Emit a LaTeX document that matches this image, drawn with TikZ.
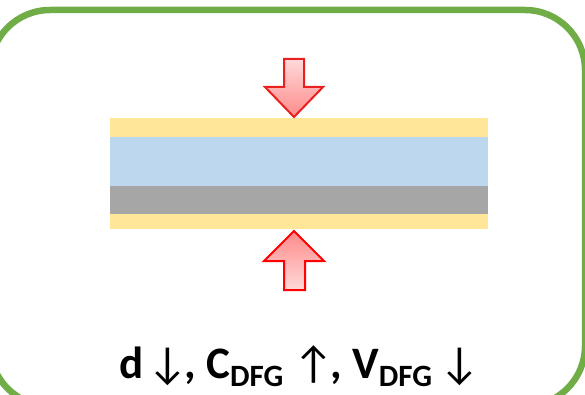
\documentclass[tikz,border=0pt]{standalone}
\usepackage{fontspec}
\setmainfont{Carlito}
\newcommand{\dfgsub}{\raisebox{-8pt}{\fontsize{31}{33}\selectfont DFG}}
\begin{document}
\begin{tikzpicture}[x=1pt,y=-1pt,
  bigarrow/.style={line width=2pt, line join=miter},
  txtstyle/.style={font=\fontsize{45}{47}\selectfont\bfseries, anchor=base, inner sep=0pt}]
\definecolor{gframe}{HTML}{70AD47}
\definecolor{ylayer}{HTML}{FFE699}
\definecolor{blayer}{HTML}{BDD7EE}
\definecolor{glayer}{HTML}{A6A6A6}
\definecolor{alight}{HTML}{FFD9D9}
\definecolor{adark}{HTML}{FF8A8A}
\definecolor{aedge}{HTML}{E82020}
\useasboundingbox (0,0) rectangle (585,395);
\clip (0,0) rectangle (585,395);
% frame
\draw[draw=gframe, line width=6.5pt, rounded corners=60pt] (-10,10) rectangle (585,406);
% layers
\fill[ylayer] (110,118) rectangle (488,137);
\fill[blayer] (110,137) rectangle (488,186);
\fill[glayer] (110,186) rectangle (488,214);
\fill[ylayer] (110,214) rectangle (488,229);
% top arrow (down)
\draw[bigarrow, draw=aedge, top color=alight, bottom color=adark]
  (284,59) -- (304,59) -- (304,87) -- (323,87) -- (294,117) -- (265,87) -- (284,87) -- cycle;
% bottom arrow (up)
\draw[bigarrow, draw=red, top color=adark, bottom color=alight]
  (294,231) -- (324,261) -- (305,261) -- (305,290) -- (284,290) -- (284,261) -- (264,261) -- cycle;
% label
\node[txtstyle] (txt) at (300,378) {d\kern4pt{\mdseries↓}\kern-4pt, C\dfgsub{} {\mdseries↑}\kern-4pt, V\dfgsub{}\,{\mdseries↓}};
\end{tikzpicture}
\end{document}
